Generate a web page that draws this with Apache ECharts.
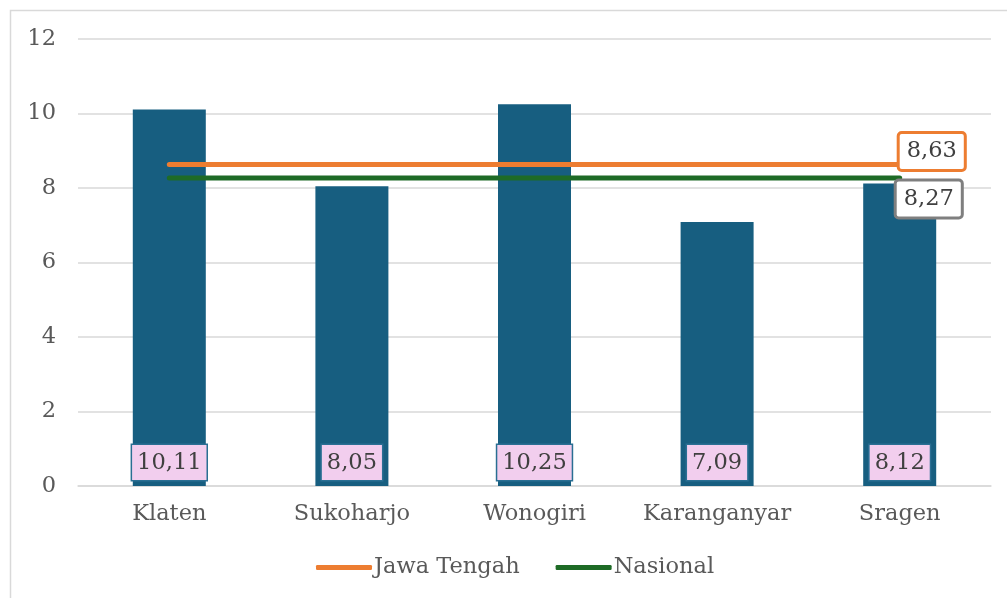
<!DOCTYPE html>
<html><head><meta charset="utf-8">
<script src="https://cdn.jsdelivr.net/npm/echarts@6/dist/echarts.min.js"></script>
<style>html,body{margin:0;padding:0;background:#fff}#c{width:1007px;height:598px}</style>
</head><body><div id="c"></div>
<script>
var categories = ['Klaten', 'Sukoharjo', 'Wonogiri', 'Karanganyar', 'Sragen'];
var kabValues = [10.11, 8.05, 10.25, 7.09, 8.12];
var jatengValue = 8.63;
var nasionalValue = 8.27;
var yTicks = [0, 2, 4, 6, 8, 10, 12];

var FONT = '"DejaVu Serif", serif';
var FS = 22.5;
function fmt(v){ return String(v.toFixed(2)).replace('.', ','); }
var jatengData = categories.map(function(){ return jatengValue; });
var nasData = categories.map(function(){ return nasionalValue; });

var chart = echarts.init(document.getElementById('c'));
chart.setOption({
  animation: false,
  textStyle: { fontFamily: FONT },
  graphic: [{ type: 'rect', shape: { x: 10.5, y: 10.5, width: 1200, height: 800 }, style: { fill: 'none', stroke: '#d9d9d9', lineWidth: 1.5 }, silent: true, z: -1 }],
  grid: { left: 78, right: 16, top: 39, bottom: 112 },
  legend: {
    bottom: 14, left: 311, itemWidth: 56, itemHeight: 5, itemGap: 36,
    data: [
      { name: 'Jawa Tengah', icon: 'roundRect' },
      { name: 'Nasional', icon: 'roundRect' }
    ],
    textStyle: { fontFamily: FONT, fontSize: FS, color: '#595959', padding: [0, 0, 0, -3] }
  },
  xAxis: {
    type: 'category', data: categories,
    axisLine: { lineStyle: { color: '#d9d9d9', width: 1.5 } },
    axisTick: { show: false },
    axisLabel: { fontFamily: FONT, fontSize: FS, color: '#595959', margin: 17, interval: 0 }
  },
  yAxis: {
    type: 'value', min: 0, max: 12, interval: 2,
    axisLine: { show: false }, axisTick: { show: false },
    axisLabel: { fontFamily: FONT, fontSize: FS, color: '#595959', margin: 22,
      formatter: function(v){ return yTicks.indexOf(v) >= 0 ? String(v) : ''; } },
    splitLine: { lineStyle: { color: '#d9d9d9', width: 1.5 } }
  },
  series: [
    {
      name: 'Kabupaten', type: 'bar', data: kabValues, barWidth: 73,
      itemStyle: { color: '#175E80' },
      label: {
        show: true, position: 'insideBottom', distance: 6,
        formatter: function(p){ return fmt(p.value); },
        fontFamily: FONT, fontSize: FS, color: '#404040',
        backgroundColor: '#F2CEEE', borderColor: '#2A6F93', borderWidth: 1.5,
        padding: [7, 5, 5, 5]
      }
    },
    {
      name: 'Jawa Tengah', type: 'line', data: jatengData, symbol: 'none',
      lineStyle: { color: '#ED7D31', width: 5, cap: 'round' },
      itemStyle: { color: '#ED7D31' },
      endLabel: {
        show: true, formatter: function(p){ return fmt(p.value); },
        fontFamily: FONT, fontSize: FS, color: '#404040', backgroundColor: '#fff',
        borderColor: '#ED7D31', borderWidth: 3, borderRadius: 2,
        padding: [7, 7, 5, 7], offset: [-4, -13], distance: 4
      }
    },
    {
      name: 'Nasional', type: 'line', data: nasData, symbol: 'none',
      lineStyle: { color: '#1E6B26', width: 5, cap: 'round' },
      itemStyle: { color: '#1E6B26' },
      endLabel: {
        show: true, formatter: function(p){ return fmt(p.value); },
        fontFamily: FONT, fontSize: FS, color: '#404040', backgroundColor: '#fff',
        borderColor: '#7F7F7F', borderWidth: 3, borderRadius: 2,
        padding: [7, 7, 5, 7], offset: [-7, 21], distance: 4
      }
    }
  ]
});
</script></body></html>
